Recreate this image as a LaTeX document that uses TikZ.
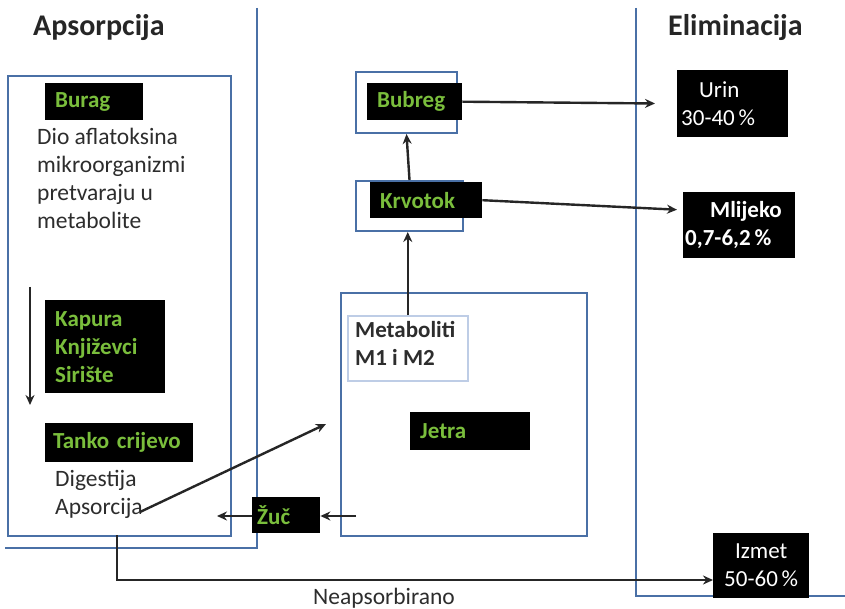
\documentclass[tikz,border=0pt]{standalone}
\usepackage{fontspec}
\setmainfont{Carlito}
\usetikzlibrary{arrows.meta}
\definecolor{frameblue}{RGB}{74,112,166}
\definecolor{lightframe}{RGB}{190,205,230}
\definecolor{lgreen}{RGB}{122,190,60}
\definecolor{darkgray}{RGB}{45,45,45}
\begin{document}
\begin{tikzpicture}[x=1pt,y=-1pt,
  frame/.style={draw=frameblue, line width=2pt},
  framebox/.style={frame, anchor=north west, inner sep=0pt},
  lightbox/.style={draw=lightframe, line width=1.5pt, fill=white, anchor=north west, inner sep=0pt},
  bbox/.style={fill=black, text=lgreen, font=\bfseries\fontsize{23}{28}\selectfont, anchor=north west, inner xsep=10pt, inner ysep=0pt, align=left},
  wbox/.style={fill=black, text=white, font=\fontsize{23}{28}\selectfont, anchor=north west, inner xsep=4pt, inner ysep=0pt},
  gtext/.style={text=darkgray, font=\fontsize{23.5}{28}\selectfont, inner sep=0pt, align=left},
  title/.style={text=black!85, font=\bfseries\fontsize{30}{35}\selectfont, inner sep=0pt},
  arr/.style={draw=black!85, line width=2.4pt, -{Stealth[length=10pt,width=9pt]}}
]
\useasboundingbox (0,0) rectangle (845,609);
\fill[white] (0,0) rectangle (845,609);

% frames
\draw[frame] (257,8) -- (257,548) -- (5,548);
\draw[frame] (636,8) -- (636,596) -- (846,596);
\node[framebox, minimum width=223, minimum height=460] (absbox) at (7,75) {};
\node[framebox, minimum width=246, minimum height=243] (jetrabox) at (340,292) {};
\node[framebox, minimum width=107, minimum height=50] (kblue) at (355,180) {};
\node[framebox, minimum width=101, minimum height=61] (bblue) at (355,71) {};

% titles
\node[title, anchor=west] (tabs) at (33,28) {Apsorpcija};
\node[title, anchor=west] (telim) at (668,28) {Eliminacija};

% left column
\node[bbox, minimum width=98, minimum height=37, text width=78] (burag) at (45,83) {Burag};
\node[gtext, anchor=north west] (dio) at (37,128) {Dio aflatoksina\\mikroorganizmi\\pretvaraju u\\metabolite};
\coordinate (s1) at (30,287);
\coordinate (s2) at (30,405);
\draw[arr] (s1) -- (s2);
\node[bbox, minimum width=120, minimum height=93, text width=100, inner xsep=8pt] (kapura) at (45,300) {Kapura\\Književci\\Sirište};
\node[bbox, minimum width=148, minimum height=39, text width=132, inner xsep=8pt] (tanko) at (45,423) {Tanko crijevo};
\node[gtext, anchor=north west] (dig) at (55,470) {Digestija\\Apsorcija};

% liver
\node[lightbox, minimum width=120, minimum height=65] (meta) at (347,315) {};
\node[anchor=north west, inner sep=0pt, align=left, text=darkgray, font=\bfseries\fontsize{23}{28}\selectfont] (metatxt) at (355,321) {Metaboliti\\M1 i M2};
\node[bbox, minimum width=120, minimum height=38, text width=100] (jetra) at (410,412) {Jetra};
\node[bbox, minimum width=68, minimum height=36, text width=58, inner xsep=5pt] (zuc) at (252,497) {Žuč};

% blood and kidney
\node[bbox, minimum width=112, minimum height=36, text width=92] (krvotok) at (370,182) {Krvotok};
\node[bbox, minimum width=95, minimum height=37, text width=75] (bubreg) at (367,83) {Bubreg};

% elimination boxes
\node[wbox, minimum width=111, minimum height=67, align=left, text width=103] (urin) at (677,70) {\hspace*{18pt}Urin\\30-40\,\%};
\node[wbox, minimum width=112, minimum height=66, align=left, text width=108, inner xsep=2pt, font=\bfseries\fontsize{23}{28}\selectfont] (mlijeko) at (683,192) {\hspace*{25pt}Mlijeko\\0,7-6,2\,\%};
\node[wbox, minimum width=96, minimum height=65, align=center, text width=88] (izmet) at (713,533) {Izmet\\50-60\,\%};

% connectors
\draw[arr] (meta.north) -- (meta.north |- kblue.south);
\draw[arr] (kblue.north) -- (bblue.south);
\draw[arr, shorten >=22pt] (bubreg.east) -- (urin.west);
\coordinate (mlin) at (683,210);
\draw[arr, shorten >=6pt] (krvotok.east) -- (mlin);
\coordinate (jout) at (356,516);
\coordinate (zin) at (217,516);
\draw[arr] (jout) -- (zuc.east |- jout);
\draw[arr] (zuc.west |- zin) -- (zin);
\coordinate (apsend) at (140,512);
\coordinate (livin) at (326,424);
\draw[arr] (apsend) -- (livin);
\coordinate (na1) at (117,535);
\coordinate (na2) at (117,580);
\draw[arr] (na1) -- (na2) -- (na2 -| izmet.west);
\node[gtext, anchor=north west] (neaps) at (313,588) {Neapsorbirano};
\end{tikzpicture}
\end{document}
